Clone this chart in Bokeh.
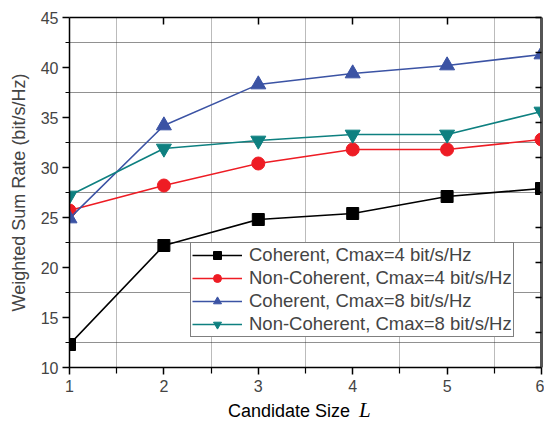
from bokeh.plotting import figure
from bokeh.models import (Range1d, FixedTicker, LinearAxis, Legend, LegendItem, Div)
from bokeh.layouts import column
from bokeh.embed import file_html
from bokeh.resources import INLINE

# ---- data ----
candidate_size = [1, 2, 3, 4, 5, 6]
coh_c4 = [12.3, 22.2, 24.8, 25.4, 27.1, 27.9]
noncoh_c4 = [25.7, 28.2, 30.4, 31.8, 31.8, 32.8]
coh_c8 = [24.9, 34.2, 38.3, 39.4, 40.2, 41.3]
noncoh_c8 = [27.2, 31.9, 32.7, 33.3, 33.3, 35.6]

series_labels = ["Coherent, Cmax=4 bit/s/Hz", "Non-Coherent, Cmax=4 bit/s/Hz",
                 "Coherent, Cmax=8 bit/s/Hz", "Non-Coherent, Cmax=8 bit/s/Hz"]
x_ticks = [1, 2, 3, 4, 5, 6]
x_minor = [1.5, 2.5, 3.5, 4.5, 5.5]
y_ticks = [10, 15, 20, 25, 30, 35, 40, 45]
y_minor = [12.5, 17.5, 22.5, 27.5, 32.5, 37.5, 42.5]
right_ticks = [45, 41.5, 38, 34.5, 31, 27.5, 24, 20.5, 17, 13.5, 10]
x_title = "Candidate Size"
x_symbol = "L"

FONT = "Liberation Sans"

p = figure(width=544, height=395, output_backend="svg", toolbar_location=None,
           x_range=Range1d(1, 6), y_range=Range1d(10, 45),
           min_border_left=69, min_border_top=17, min_border_right=3, min_border_bottom=28)
p.outline_line_color = None
p.background_fill_color = "white"
p.border_fill_color = "white"

# axes
xa = p.xaxis[0]
xa.ticker = FixedTicker(ticks=x_ticks, minor_ticks=x_minor)
xa.major_tick_out = 7
xa.major_tick_in = 0
xa.minor_tick_out = 6
xa.minor_tick_in = 0
xa.major_label_text_font = FONT
xa.major_label_text_font_size = "16px"
xa.major_label_standoff = 5
xa.axis_line_width = 1.5
xa.major_tick_line_width = 1.5
xa.minor_tick_line_width = 1.2

ya = p.yaxis[0]
ya.ticker = FixedTicker(ticks=y_ticks, minor_ticks=y_minor)
ya.major_tick_out = 7
ya.major_tick_in = 0
ya.minor_tick_out = 4
ya.minor_tick_in = 0
ya.major_label_text_font = FONT
ya.major_label_text_font_size = "16px"
ya.major_label_standoff = 4
ya.axis_label = "Weighted Sum Rate (bit/s/Hz)"
ya.axis_label_text_font = FONT
ya.axis_label_text_font_size = "18px"
ya.axis_label_text_font_style = "normal"
ya.axis_label_standoff = 9
ya.axis_line_width = 1.5
ya.major_tick_line_width = 1.5

top = LinearAxis(ticker=FixedTicker(ticks=x_ticks[1:-1], minor_ticks=[]),
                 major_tick_in=7, major_tick_out=0, minor_tick_in=0, minor_tick_out=0,
                 major_label_overrides={t: "" for t in x_ticks}, major_label_standoff=0,
                 axis_line_width=1.5, major_tick_line_width=1.5)
p.add_layout(top, "above")

right = LinearAxis(ticker=FixedTicker(ticks=right_ticks, minor_ticks=[]),
                   major_tick_in=6, major_tick_out=0, minor_tick_in=0, minor_tick_out=0,
                   major_label_overrides={t: "" for t in right_ticks}, major_label_standoff=0,
                   axis_line_width=3, axis_line_color="#555555",
                   major_tick_line_width=1.5)
p.add_layout(right, "right")

# grid on minor positions
p.xgrid.ticker = FixedTicker(ticks=x_minor)
p.ygrid.ticker = FixedTicker(ticks=y_minor)
for g in (p.xgrid[0], p.ygrid[0]):
    g.grid_line_color = "#222222"
    g.grid_line_dash = "1 1"
    g.grid_line_width = 1
p.xgrid.grid_line_color = "#777777"

# series
styles = [
    (coh_c4, "black", "square", 12),
    (noncoh_c4, "#ee1c24", "circle", 13),
    (coh_c8, "#3b53a4", "triangle", 15),
    (noncoh_c8, "#0e8080", "inverted_triangle", 15),
]
items = []
for (ys, col, mk, sz), lab in zip(styles, series_labels):
    ln = p.line(candidate_size, ys, line_color=col, line_width=1.6)
    sc = p.scatter(candidate_size, ys, marker=mk, size=sz, fill_color=col, line_color=col)
    items.append(LegendItem(label=lab, renderers=[ln, sc]))

legend = Legend(items=items, location=(121, 30))
legend.label_text_font = FONT
legend.label_text_font_size = "18.5px"
legend.glyph_width = 50
legend.glyph_height = 20
legend.label_height = 20
legend.spacing = 1
legend.padding = 1
legend.margin = 0
legend.label_standoff = 7
legend.border_line_color = "black"
legend.border_line_width = 1
legend.background_fill_alpha = 1
p.add_layout(legend)

# x axis title below the figure ("L" is italic serif)
xtitle = Div(
    text=(f'<div style="font-family:\'Liberation Sans\';font-size:18px;color:black;'
          f'margin-left:223px;line-height:20px;white-space:nowrap">{x_title}'
          f'<span style="font-family:\'Liberation Serif\';font-style:italic;font-size:21px;'
          f'margin-left:9px">{x_symbol}</span></div>'),
    width=544, height=26)

layout = column(p, xtitle, spacing=0)
open("out.html", "w").write(file_html(layout, INLINE))
